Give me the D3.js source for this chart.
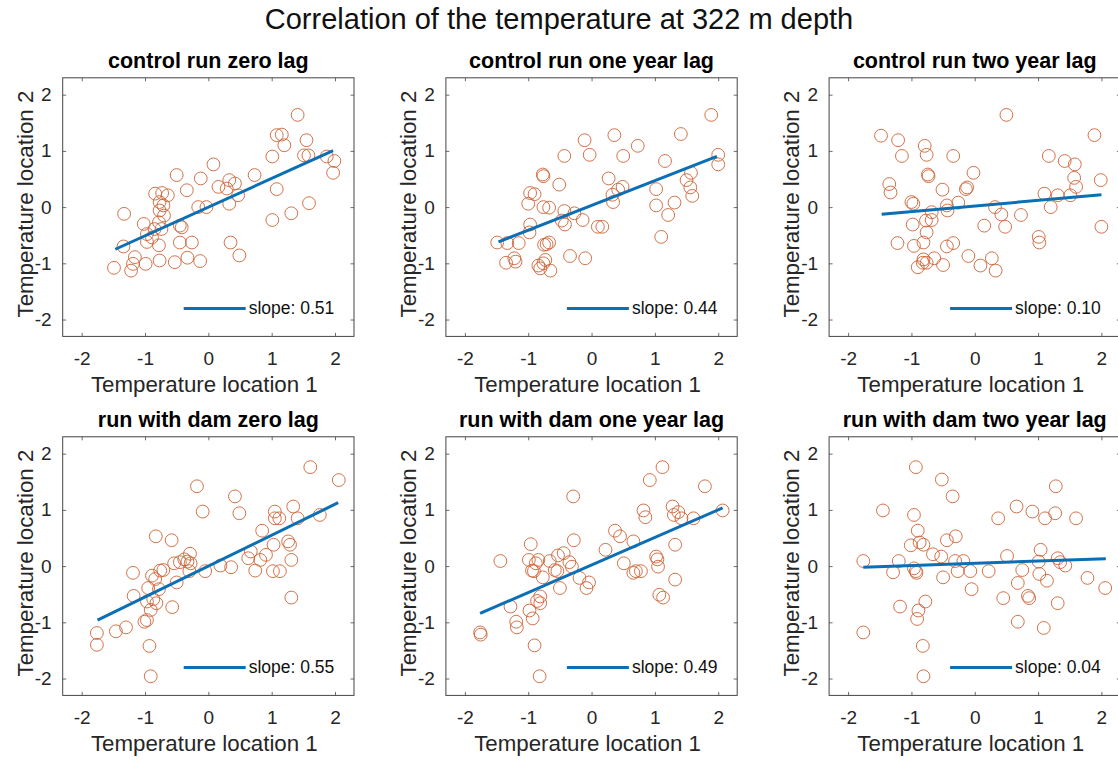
<!DOCTYPE html>
<html>
<head>
<meta charset="utf-8">
<script src="https://cdn.jsdelivr.net/npm/d3@7"></script>
<style>
  html, body { margin: 0; padding: 0; background: #fff; overflow: hidden; }
  svg { display: block; font-family: "Liberation Sans", Arial, Helvetica, sans-serif; }
</style>
</head>
<body>
<svg id="chart" width="1118" height="760"></svg>
<script>
// ---------------- data ----------------
const mainTitle = "Correlation of the temperature at 322 m depth";
const panelTitles = [
  "control run zero lag", "control run one year lag", "control run two year lag",
  "run with dam zero lag", "run with dam one year lag", "run with dam two year lag"
];
const xLabel = "Temperature location 1";
const yLabel = "Temperature location 2";
const xTicks = [-2, -1, 0, 1, 2];
const yTicks = [-2, -1, 0, 1, 2];
const axisLimits = [-2.3, 2.3];

const slopeLabels = ["0.51", "0.44", "0.10", "0.55", "0.49", "0.04"];
const slopes = [0.51, 0.44, 0.10, 0.55, 0.49, 0.04];
const intercepts = [0.00, 0.03, 0.02, 0.00, 0.02, 0.05];
const lineStart = [-1.47, -1.47, -1.47, -1.75, -1.76, -1.76];
const lineEnd = [1.97, 1.98, 2.00, 2.05, 2.07, 2.07];

const ctrlZeroX = [-1.49,-1.33,-1.34,-1.16,-1.19,-1.22,-0.99,-1.02,-0.97,-0.97,-0.89,-0.84,-0.73,-0.64,-0.77,-0.71,-0.77,-0.70,-0.78,-0.85,-0.74,-0.78,-0.77,-0.50,-0.53,-0.34,-0.45,-0.42,-0.45,-0.26,-0.33,-0.13,-0.12,-0.16,-0.03,0.08,0.16,0.29,0.33,0.42,0.33,0.47,0.35,0.49,0.73,1.01,1.08,1.16,1.20,1.08,1.01,1.31,1.41,1.55,1.51,1.58,1.59,1.87,1.99,1.97];
const ctrlZeroY = [-1.08,-0.12,-0.70,-0.89,-1.01,-1.13,-1.01,-0.30,-0.48,-0.62,-0.54,0.24,0.25,0.21,0.09,0.03,-0.06,-0.15,-0.27,-0.39,-0.39,-0.68,-0.95,0.57,-0.98,0.30,-0.33,-0.36,-0.63,-0.63,-0.90,-0.96,0.51,0.00,0.00,0.76,0.36,0.33,0.48,0.42,0.06,0.21,-0.63,-0.86,0.57,0.90,1.28,1.29,1.10,0.32,-0.23,-0.11,1.64,1.19,0.92,0.92,0.07,0.90,0.82,0.61];

const ctrlOneX = [-1.49,-1.33,-1.15,-1.22,-1.20,-1.35,-1.00,-0.97,-0.90,-0.97,-0.98,-0.84,-0.81,-0.76,-0.73,-0.65,-0.77,-0.76,-0.76,-0.67,-0.75,-0.71,-0.67,-0.51,-0.43,-0.43,-0.47,-0.42,-0.34,-0.27,-0.14,-0.10,-0.11,-0.03,0.10,0.17,0.27,0.33,0.34,0.42,0.49,0.36,0.50,0.73,1.02,1.02,1.16,1.10,1.21,1.31,1.41,1.50,1.57,1.56,1.59,1.89,2.00,2.00];
const ctrlOneY = [-0.63,-0.64,-0.64,-0.91,-0.97,-0.99,0.06,0.25,0.23,-0.31,-0.45,-1.04,-1.09,-1.00,-0.94,-1.13,0.58,0.55,0.00,-0.01,-0.67,-0.66,-0.63,0.40,0.91,-0.07,-0.24,-0.31,-0.87,-0.11,-0.23,-0.91,1.19,0.93,-0.35,-0.35,0.51,0.22,0.09,0.31,0.36,1.28,0.91,1.09,0.32,0.03,0.82,-0.53,-0.14,0.08,1.30,0.48,0.61,0.35,0.20,1.64,0.93,0.76];

const ctrlTwoX = [-1.48,-1.35,-1.33,-1.21,-1.15,-1.22,-1.00,-0.97,-0.98,-0.96,-0.90,-0.82,-0.76,-0.81,-0.79,-0.76,-0.74,-0.73,-0.77,-0.76,-0.81,-0.68,-0.68,-0.64,-0.50,-0.51,-0.44,-0.43,-0.44,-0.34,-0.34,-0.26,-0.14,-0.12,-0.10,-0.02,0.09,0.15,0.27,0.33,0.32,0.42,0.48,0.50,0.73,1.01,1.02,1.10,1.17,1.20,1.31,1.42,1.51,1.57,1.58,1.60,1.89,1.99,2.00];
const ctrlTwoY = [1.27,0.41,0.26,1.19,0.91,-0.64,0.09,0.06,-0.31,-0.69,-1.07,-0.99,-0.99,-0.93,1.09,0.93,0.58,0.55,-0.24,-0.45,-0.63,-0.09,-0.23,-0.91,-1.03,0.31,0.03,-0.06,-0.70,-0.64,0.91,0.08,0.32,0.35,-0.87,0.61,-1.04,-0.33,-0.91,-1.13,0.00,-0.13,-0.35,1.64,-0.14,-0.53,-0.63,0.24,0.91,0.00,0.21,0.82,0.21,0.52,0.76,0.36,1.28,0.48,-0.35];

const damZeroX = [-1.76,-1.76,-1.46,-1.30,-1.19,-1.18,-1.01,-0.97,-0.97,-0.95,-0.93,-0.91,-0.91,-0.87,-0.89,-0.84,-0.83,-0.82,-0.78,-0.76,-0.71,-0.58,-0.57,-0.50,-0.54,-0.45,-0.38,-0.33,-0.29,-0.28,-0.30,-0.18,-0.09,-0.05,0.19,0.36,0.42,0.49,0.63,0.67,0.74,0.82,0.85,0.91,1.03,1.02,1.05,1.05,1.12,1.13,1.26,1.29,1.31,1.31,1.34,1.41,1.61,1.76,2.06];
const damZeroY = [-1.19,-1.40,-1.16,-1.09,-0.12,-0.53,-0.99,-0.96,-0.63,-0.39,-1.42,-1.96,-0.78,-0.59,-0.17,-0.23,0.53,-0.66,-0.41,-0.08,-0.07,0.46,-0.73,-0.29,0.05,0.07,0.12,0.08,0.22,0.05,-0.09,1.42,0.97,-0.09,0.01,-0.02,1.24,0.94,0.14,0.26,-0.08,0.11,0.63,0.20,0.38,-0.09,0.97,0.85,0.85,-0.09,0.44,0.38,0.11,-0.56,1.06,0.85,1.76,0.91,1.53];

const damOneX = [-1.76,-1.75,-1.44,-1.28,-1.19,-1.18,-0.99,-0.96,-0.98,-0.93,-0.94,-0.91,-0.88,-0.84,-0.90,-0.82,-0.86,-0.81,-0.81,-0.77,-0.66,-0.58,-0.54,-0.53,-0.50,-0.44,-0.35,-0.31,-0.29,-0.28,-0.19,-0.08,-0.04,0.22,0.37,0.45,0.51,0.66,0.66,0.70,0.78,0.82,0.85,0.92,1.02,1.04,1.05,1.07,1.13,1.12,1.28,1.30,1.37,1.32,1.32,1.42,1.61,1.79,2.07];
const damOneY = [-1.18,-1.22,0.09,-0.72,-0.99,-1.09,0.11,0.39,-0.79,-0.93,-0.08,-0.09,0.05,0.11,-1.41,-1.96,-0.62,-0.54,-0.66,-0.20,0.09,-0.07,-0.09,0.19,-0.39,0.23,0.07,-0.01,1.24,0.46,-0.21,-0.39,-0.29,0.29,0.63,0.53,0.05,0.44,-0.12,-0.09,-0.09,0.99,0.87,1.53,0.17,0.12,-0.01,-0.51,-0.56,1.76,1.06,0.91,0.96,0.38,-0.24,0.85,0.85,1.42,0.99];

const damTwoX = [-1.76,-1.76,-1.45,-1.29,-1.20,-1.18,-1.01,-0.96,-0.96,-0.93,-0.92,-0.93,-0.90,-0.87,-0.81,-0.89,-0.91,-0.78,-0.82,-0.81,-0.66,-0.53,-0.52,-0.50,-0.44,-0.35,-0.30,-0.31,-0.27,-0.18,-0.07,-0.05,0.22,0.37,0.45,0.51,0.66,0.68,0.68,0.75,0.84,0.86,0.91,1.01,1.04,1.02,1.09,1.11,1.14,1.27,1.28,1.31,1.31,1.35,1.43,1.60,1.78,2.06];
const damTwoY = [0.09,-1.18,0.99,-0.11,0.09,-0.72,0.37,0.91,-0.04,-0.09,-0.12,1.76,0.63,0.42,0.38,-0.79,-0.94,-0.63,-1.42,-1.96,0.21,0.17,1.54,-0.20,0.46,1.24,0.53,0.09,-0.09,0.09,-0.09,-0.41,-0.09,0.85,-0.57,0.18,1.06,-0.30,-0.99,-0.07,-0.53,-0.57,0.97,0.08,0.29,-0.14,-1.10,0.85,-0.26,0.94,1.42,0.14,-0.66,0.07,0.01,0.85,-0.21,-0.39];

const seriesX = [ctrlZeroX, ctrlOneX, ctrlTwoX, damZeroX, damOneX, damTwoX];
const seriesY = [ctrlZeroY, ctrlOneY, ctrlTwoY, damZeroY, damOneY, damTwoY];

// ---------------- layout ----------------
const svg = d3.select("#chart");
const boxLeft0 = 62.7, colStep = 383.2, boxW = 291.3;
const boxTop0 = 77.8, rowStep = 359, boxH = 258.6;
const textColor = "#262626";
const axisColor = "#454545";
const markerColor = "#cd6234";
const lineColor = "#0a6fb4";

svg.append("text")
  .attr("x", 559).attr("y", 29)
  .attr("text-anchor", "middle")
  .attr("font-size", "29px")
  .attr("fill", "#111")
  .text(mainTitle);

panelTitles.forEach((title, i) => {
  const row = Math.floor(i / 3), col = i % 3;
  const left = boxLeft0 + col * colStep;
  const top = boxTop0 + row * rowStep;
  const x = d3.scaleLinear().domain(axisLimits).range([left, left + boxW]);
  const y = d3.scaleLinear().domain(axisLimits).range([top + boxH, top]);
  const g = svg.append("g");
  const fmt = d => String(d);

  // box
  g.append("rect")
    .attr("x", left).attr("y", top).attr("width", boxW).attr("height", boxH)
    .attr("fill", "none").attr("stroke", axisColor).attr("stroke-width", 1);

  const styleAxis = sel => {
    sel.select(".domain").remove();
    sel.selectAll(".tick line").attr("stroke", axisColor).attr("stroke-width", 0.8);
    sel.selectAll(".tick text").attr("fill", textColor).attr("font-size", "19px")
      .attr("font-family", "'Liberation Sans', Arial, Helvetica, sans-serif");
  };

  g.append("g").attr("transform", `translate(0,${top + boxH})`)
    .call(d3.axisBottom(x).tickValues(xTicks).tickFormat(fmt).tickSizeInner(-3.5).tickSizeOuter(0).tickPadding(15))
    .call(styleAxis);
  g.append("g").attr("transform", `translate(0,${top})`)
    .call(d3.axisTop(x).tickValues(xTicks).tickFormat("").tickSizeInner(-3.5).tickSizeOuter(0))
    .call(styleAxis);
  g.append("g").attr("transform", `translate(${left},0)`)
    .call(d3.axisLeft(y).tickValues(yTicks).tickFormat(fmt).tickSizeInner(-3.5).tickSizeOuter(0).tickPadding(11))
    .call(styleAxis);
  g.append("g").attr("transform", `translate(${left + boxW},0)`)
    .call(d3.axisRight(y).tickValues(yTicks).tickFormat("").tickSizeInner(-3.5).tickSizeOuter(0))
    .call(styleAxis);

  // points
  const pts = seriesX[i].map((v, k) => ({ x: v, y: seriesY[i][k] }));
  g.append("g").selectAll("circle").data(pts).join("circle")
    .attr("cx", d => x(d.x)).attr("cy", d => y(d.y)).attr("r", 6.4)
    .attr("fill", "none").attr("stroke", markerColor).attr("stroke-width", 0.9);

  // regression line
  const fit = [lineStart[i], lineEnd[i]].map(v => ({ x: v, y: intercepts[i] + slopes[i] * v }));
  g.append("path").datum(fit)
    .attr("d", d3.line().x(d => x(d.x)).y(d => y(d.y)))
    .attr("fill", "none").attr("stroke", lineColor).attr("stroke-width", 3);

  // legend
  const ly = top + boxH - 28;
  g.append("line")
    .attr("x1", left + 121).attr("x2", left + 183).attr("y1", ly).attr("y2", ly)
    .attr("stroke", lineColor).attr("stroke-width", 3);
  g.append("text")
    .attr("x", left + 186).attr("y", ly + 6)
    .attr("font-size", "17.5px").attr("fill", "#111")
    .text("slope: " + slopeLabels[i]);

  // titles & labels
  g.append("text")
    .attr("x", left + boxW / 2).attr("y", top - 9.5)
    .attr("text-anchor", "middle").attr("font-weight", "bold")
    .attr("font-size", "21.5px").attr("fill", "#000")
    .text(title);
  g.append("text")
    .attr("x", left + boxW / 2 - 4).attr("y", top + boxH + 56)
    .attr("text-anchor", "middle").attr("font-size", "22.3px").attr("fill", textColor)
    .text(xLabel);
  g.append("text")
    .attr("transform", `translate(${left - 30},${top + boxH / 2 - 3}) rotate(-90)`)
    .attr("text-anchor", "middle").attr("font-size", "22.3px").attr("fill", textColor)
    .text(yLabel);
});
</script>
</body>
</html>
